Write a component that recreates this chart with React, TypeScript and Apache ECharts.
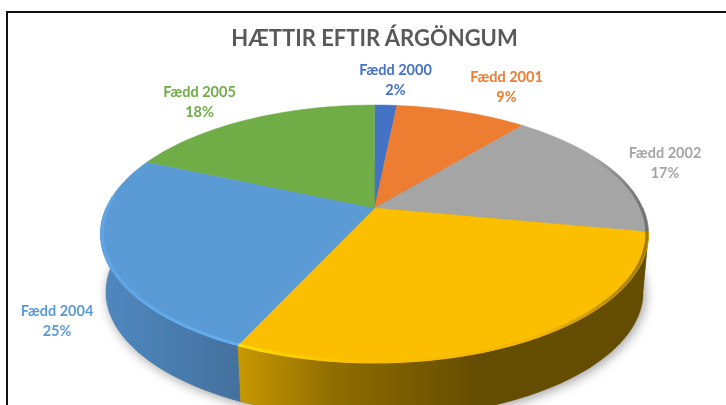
import React, { useEffect, useRef } from "react";
import * as echarts from "echarts";

const categories = ["Fædd 2000", "Fædd 2001", "Fædd 2002", "Fædd 2003", "Fædd 2004", "Fædd 2005"];
const shares = [1.6, 9.4, 17, 28.85, 24.75, 18.4];
const colors = ["#4472C4", "#ED7D31", "#A5A5A5", "#FBBF00", "#5B9BD5", "#70AD47"];
const titleText = "HÆTTIR EFTIR ÁRGÖNGUM";

// Label anchors per category (the 2003 label falls outside the cropped picture).
const labelAnchors: Record<string, [number, number] | null> = {
  "Fædd 2000": [395.5, 79.5],
  "Fædd 2001": [506.5, 86.5],
  "Fædd 2002": [665, 162.5],
  "Fædd 2003": null,
  "Fædd 2004": [57, 320.5],
  "Fædd 2005": [199.5, 101],
};

// Perspective projection of the disc
const CX = 374.5, APEX_Y = 208, K = 0.2016, A = 268.4, B = 123.75;
const ELL_Y = 234, DEPTH = 58, BASE_SCALE = 0.98;
const total = shares.reduce((a, b) => a + b, 0);
const startDeg = (i: number) => (shares.slice(0, i).reduce((a, b) => a + b, 0) / total) * 360;

function top(deg: number, r = 1): [number, number] {
  const t = (deg * Math.PI) / 180;
  const u = r * Math.sin(t), v = -r * Math.cos(t);
  const d = 1 - K * v;
  return [CX + (A * u) / d, APEX_Y + (B * v) / d];
}
function base(deg: number): [number, number] {
  const [x, y] = top(deg);
  return [CX + BASE_SCALE * (x - CX), ELL_Y + DEPTH + BASE_SCALE * (y - ELL_Y)];
}
function arc(from: number, to: number, fn: (d: number) => [number, number]) {
  const n = Math.max(2, Math.ceil(Math.abs(to - from) / 1.5));
  const pts: [number, number][] = [];
  for (let i = 0; i <= n; i++) pts.push(fn(from + ((to - from) * i) / n));
  return pts;
}
const xGrad = (x0: number, x1: number, stops: [number, string][]) =>
  new echarts.graphic.LinearGradient(
    x0, 0, x1, 0,
    stops.map(([offset, color]) => ({ offset, color })),
    true
  );

const wallFills: Record<number, any> = {
  2: "#6e6e6e",
  3: xGrad(238, 480, [[0, "#C89800"], [0.4, "#8F6D00"], [1, "#644C00"]]),
  4: xGrad(100, 238, [[0, "#4F89C0"], [1, "#44719F"]]),
};
const rims: Record<number, { fill: any; from: number; to: number }> = {
  2: { fill: xGrad(590, 648, [[0, "rgba(110,110,110,0)"], [1, "#707070"]]), from: 65, to: startDeg(3) },
  3: {
    fill: xGrad(238, 648, [[0, "#FFE100"], [0.1, "#FFD000"], [0.3, "#FBBF00"], [0.75, "#F0B500"], [1, "#A07A00"]]),
    from: startDeg(3),
    to: startDeg(4),
  },
  4: { fill: xGrad(100, 238, [[0, "#60A6E6"], [1, "#66ADEE"]]), from: startDeg(4), to: 275 },
};

export default function App() {
  const ref = useRef<HTMLDivElement>(null);
  useEffect(() => {
    document.body.style.margin = "0";
    const chart = echarts.init(ref.current!, null, { renderer: "svg" });
    chart.setOption({
      animation: false,
      backgroundColor: "#ffffff",
      title: {
        text: titleText,
        left: 369.5,
        top: 21,
        textAlign: "center",
        textStyle: { fontFamily: "Lato", fontSize: 22, fontWeight: "bold", color: "#595959" },
      },
      graphic: [
        {
          type: "rect",
          z: 0,
          silent: true,
          shape: { x: 7, y: 12, width: 800, height: 500 },
          style: { fill: "#fff", stroke: "#111", lineWidth: 2 },
        },
      ],
      series: [
        {
          type: "custom",
          coordinateSystem: "none",
          z: 2,
          data: shares,
          renderItem: (p: any) => {
            const i = p.dataIndex;
            const from = Math.max(startDeg(i), 90);
            const to = Math.min(startDeg(i + 1), 270);
            const children: any[] = [];
            if (i === 0) {
              children.push({
                type: "polygon",
                z2: 0,
                shape: { points: arc(0, 358, base) },
                style: { fill: "#777", shadowBlur: 12, shadowColor: "rgba(0,0,0,0.4)", shadowOffsetX: 2, shadowOffsetY: 2 },
              });
            }
            if (to > from) {
              children.push({
                type: "polygon",
                z2: 1,
                shape: { points: [...arc(from, to, (d) => top(d)), ...arc(to, from, base)] },
                style: { fill: wallFills[i] ?? colors[i], stroke: wallFills[i] ?? colors[i], lineWidth: 0.5 },
              });
            }
            return { type: "group", children };
          },
        },
        {
          type: "custom",
          coordinateSystem: "none",
          z: 3,
          data: shares,
          renderItem: (p: any) => {
            const i = p.dataIndex;
            const c = colors[i];
            return {
              type: "polygon",
              shape: { points: [[CX, APEX_Y], ...arc(startDeg(i), startDeg(i + 1), (d) => top(d))] },
              style: { fill: c, stroke: c, lineWidth: 0.5 },
            };
          },
        },
        {
          type: "custom",
          coordinateSystem: "none",
          z: 4,
          data: shares,
          renderItem: (p: any) => {
            const rim = rims[p.dataIndex];
            if (!rim) return null;
            return {
              type: "polyline",
              shape: { points: arc(rim.from, rim.to, (d) => top(d, 0.994)) },
              style: { fill: "none", stroke: rim.fill, lineWidth: 3 },
            };
          },
        },
        {
          type: "custom",
          coordinateSystem: "none",
          z: 5,
          data: shares,
          renderItem: (p: any, api: any) => {
            const i = p.dataIndex;
            const anchor = labelAnchors[categories[i]];
            if (!anchor) return null;
            return {
              type: "text",
              x: anchor[0],
              y: anchor[1],
              style: {
                text: `${categories[i]}\n${Math.round(api.value(0))}%`,
                fill: colors[i],
                font: "bold 14.5px Lato",
                lineHeight: 20,
                align: "center",
                verticalAlign: "middle",
              },
            };
          },
        },
      ],
    });
    return () => chart.dispose();
  }, []);
  return <div ref={ref} style={{ width: 726, height: 405, filter: "blur(0.4px)" }} />;
}
